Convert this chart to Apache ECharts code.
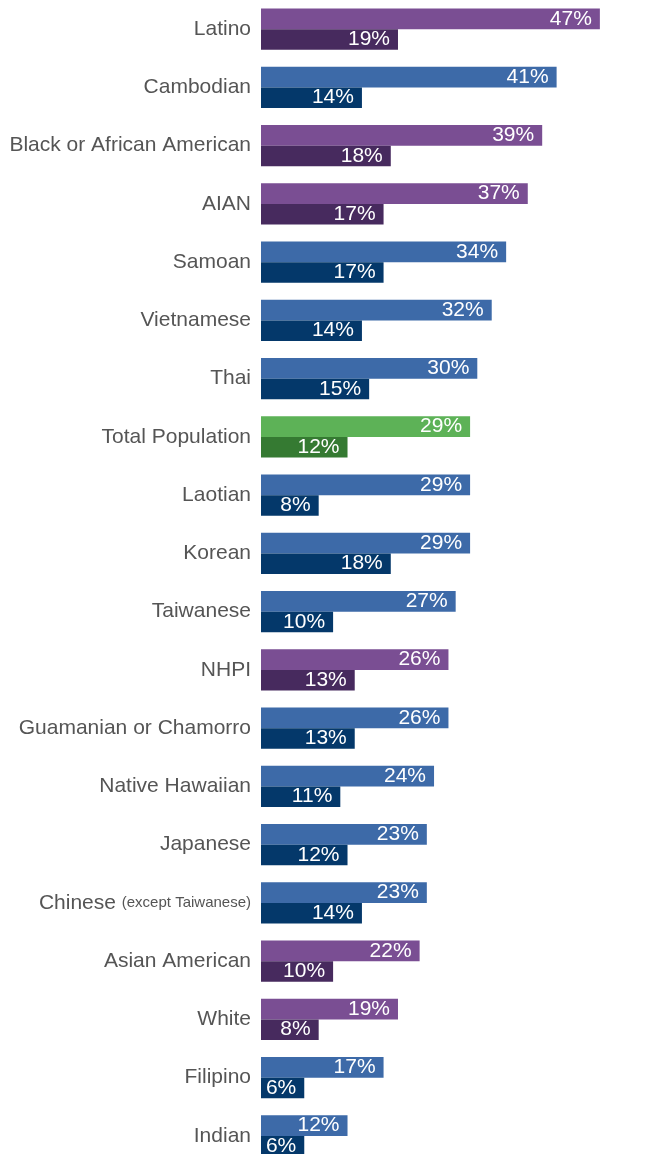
<!DOCTYPE html>
<html>
<head>
<meta charset="utf-8">
<script src="https://cdn.jsdelivr.net/npm/echarts@6/dist/echarts.min.js"></script>
<style>
html,body{margin:0;padding:0;background:#fff;}
#c{width:664px;height:1154px;}
</style>
</head>
<body>
<div id="c"></div>
<script>
const categories = ['Latino','Cambodian','Black or African American','AIAN','Samoan','Vietnamese','Thai','Total Population','Laotian','Korean','Taiwanese','NHPI','Guamanian or Chamorro','Native Hawaiian','Japanese','Chinese','Asian American','White','Filipino','Indian'];
const groups = ['race','asian','race','race','asian','asian','asian','total','asian','asian','asian','race','asian','asian','asian','asian','race','race','asian','asian'];
const seriesA = [47,41,39,37,34,32,30,29,29,29,27,26,26,24,23,23,22,19,17,12];
const seriesB = [19,14,18,17,17,14,15,12,8,18,10,13,13,11,12,14,10,8,6,6];

const lightColors = {race:'#7A4E93', asian:'#3D6AA8', total:'#5DB257'};
const darkColors = {race:'#472A5E', asian:'#04386A', total:'#357A32'};

const font = '"Liberation Sans", Arial, sans-serif';
const chart = echarts.init(document.getElementById('c'), null, {renderer:'canvas'});

function labelCfg(){
  return {show:true, position:'insideRight', distance:8, color:'#fff', fontSize:21, fontFamily:font,
    formatter: p => p.value + '%'};
}

chart.setOption({
  animation:false,
  grid:{left:261, width:360.5, top:0, height:1165, containLabel:false, outerBoundsMode:'none'},
  xAxis:{type:'value', min:0, max:50, show:false},
  yAxis:{type:'category', data:categories, inverse:true,
    axisLine:{show:false}, axisTick:{show:false}, splitLine:{show:false},
    axisLabel:{margin:10, color:'#555', fontSize:21, fontFamily:font,
      formatter: v => v === 'Chinese' ? 'Chinese {s|(except Taiwanese)}' : v,
      rich:{s:{fontSize:15, color:'#555', fontFamily:font}}
    }
  },
  series:[
    {type:'bar', barWidth:20.6, barGap:'0%',
      data: seriesA.map((v,i)=>({value:v, itemStyle:{color:lightColors[groups[i]]}})),
      label: labelCfg()},
    {type:'bar', barWidth:20.6, barGap:'0%',
      data: seriesB.map((v,i)=>({value:v, itemStyle:{color:darkColors[groups[i]]}})),
      label: labelCfg()}
  ]
});
</script>
</body>
</html>
